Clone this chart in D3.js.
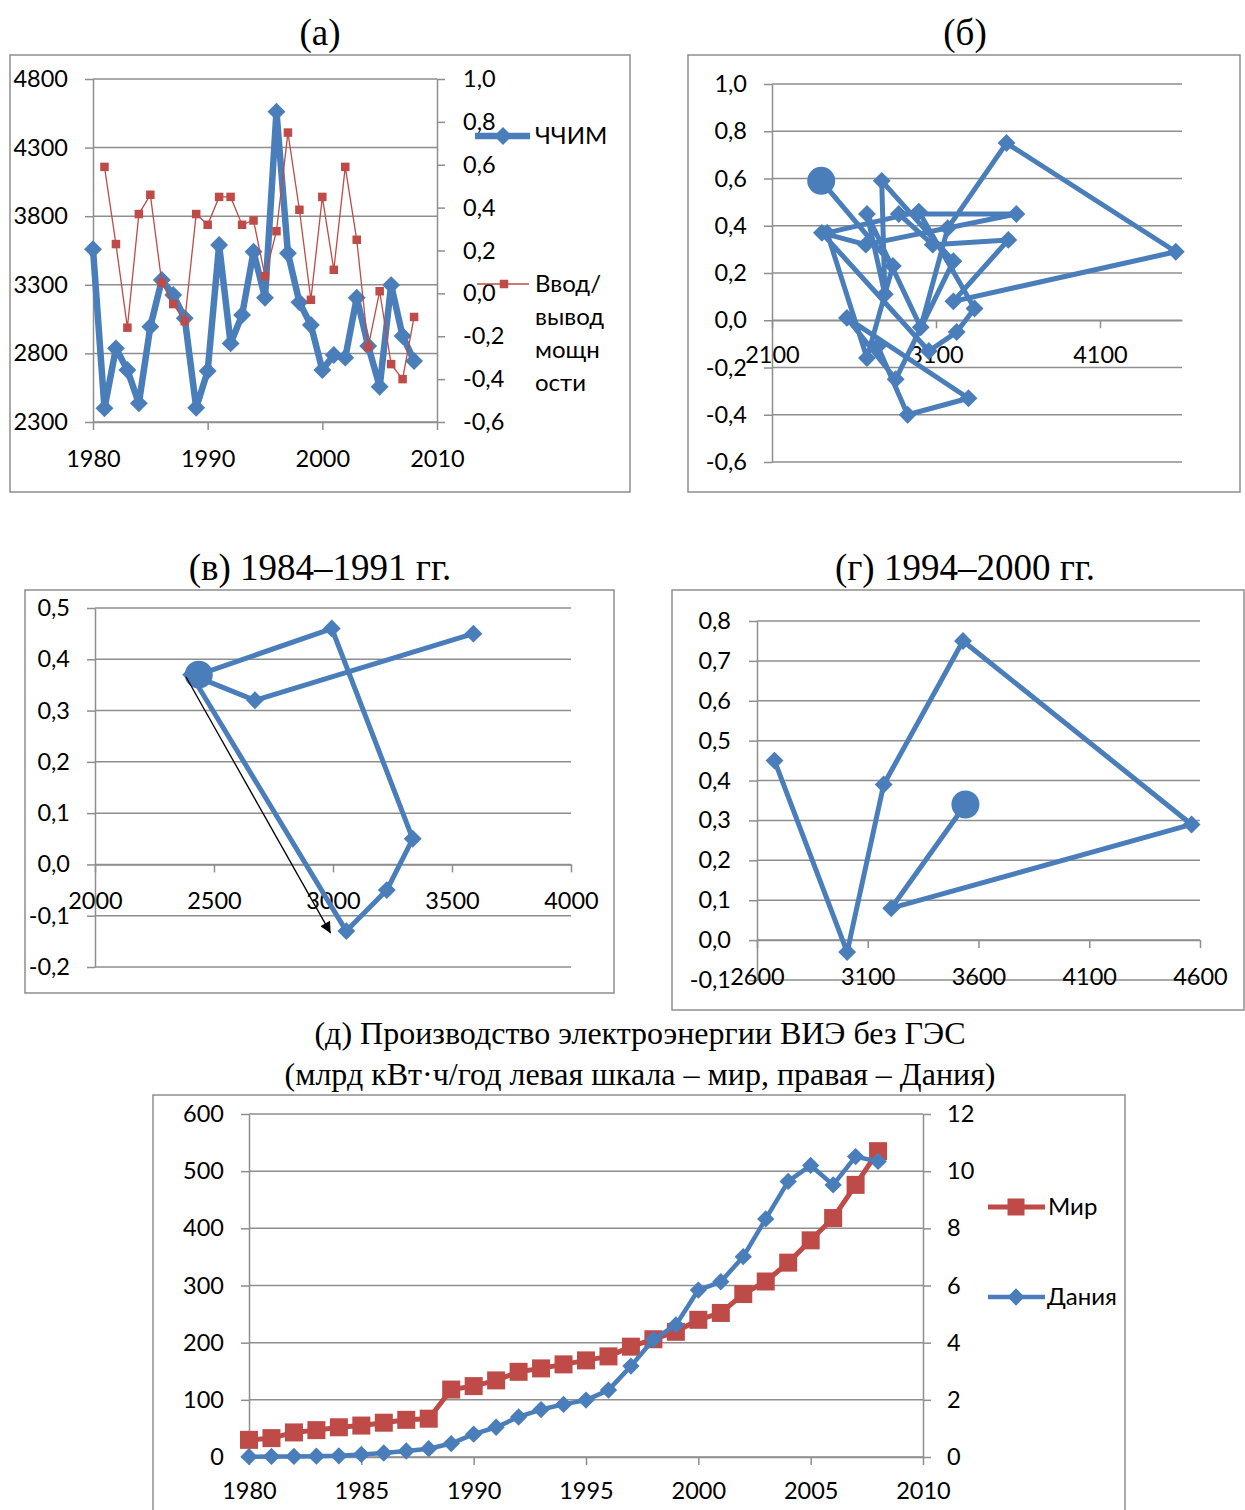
<!DOCTYPE html>
<html>
<head>
<meta charset="utf-8">
<script src="https://cdn.jsdelivr.net/npm/d3@7"></script>
<style>
body { margin: 0; background: #fff; }
svg text { font-family: Lato, "Open Sans", sans-serif; font-size: 23.5px; fill: #000; }
svg text.title { font-family: "Liberation Serif", "Times New Roman", serif; font-size: 37px; }
svg text.title.small { font-size: 32px; }
svg text.legend { font-size: 24px; }
</style>
</head>
<body>
<svg id="chart" width="1245" height="1510"></svg>
<script>
var svg = d3.select("#chart");
var blue = "#4a7ebb", red = "#be4b48", gridCol = "#8e8e8e";

// data
var years = [1980, 1981, 1982, 1983, 1984, 1985, 1986, 1987, 1988, 1989,
             1990, 1991, 1992, 1993, 1994, 1995, 1996, 1997, 1998, 1999,
             2000, 2001, 2002, 2003, 2004, 2005, 2006, 2007, 2008];
var chchim = [3560, 2400, 2837, 2679, 2436, 2995, 3335, 3226, 3056, 2404,
              2672, 3590, 2873, 3080, 3541, 3206, 4562, 3530, 3172, 3007,
              2679, 2788, 2769, 3206, 2854, 2557, 3298, 2927, 2745];
var vvod = [null, 0.59, 0.23, -0.16, 0.37, 0.46, 0.05, -0.05, -0.13, 0.37,
            0.32, 0.45, 0.45, 0.32, 0.34, 0.08, 0.29, 0.75, 0.39, -0.03,
            0.45, 0.11, 0.59, 0.25, -0.25, 0.01, -0.33, -0.40, -0.11];
var worldRE = [30, 33, 43, 47, 52, 55, 60, 65, 67, 118,
               124, 134, 149, 155, 162, 169, 176, 193, 206, 219,
               240, 252, 285, 307, 340, 379, 418, 476, 535];
var denmarkRE = [0.01, 0.02, 0.02, 0.03, 0.04, 0.09, 0.14, 0.21, 0.29, 0.47,
                 0.80, 1.04, 1.40, 1.66, 1.84, 1.99, 2.34, 3.18, 4.11, 4.62,
                 5.84, 6.13, 7.01, 8.33, 9.64, 10.2, 9.52, 10.51, 10.34];

var chchimTicks = [2300, 2800, 3300, 3800, 4300, 4800];
var vvodTicks = [-0.6, -0.4, -0.2, 0, 0.2, 0.4, 0.6, 0.8, 1.0];
var yearTicksA = [1980, 1990, 2000, 2010];
var phaseBX = [2100, 3100, 4100];
var phaseCX = [2000, 2500, 3000, 3500, 4000];
var phaseCY = [-0.2, -0.1, 0, 0.1, 0.2, 0.3, 0.4, 0.5];
var phaseDX = [2600, 3100, 3600, 4100, 4600];
var phaseDY = [-0.1, 0, 0.1, 0.2, 0.3, 0.4, 0.5, 0.6, 0.7, 0.8];
var worldTicks = [0, 100, 200, 300, 400, 500, 600];
var denmarkTicks = [0, 2, 4, 6, 8, 10, 12];
var yearTicksE = [1980, 1985, 1990, 1995, 2000, 2005, 2010];
var arrowC = [[2382, 0.366], [2990, -0.134]];

var loc = d3.formatLocale({decimal: ",", thousands: "", grouping: [3], currency: ["", ""], minus: "-"});
var f1 = loc.format(".1f");
var fInt = d3.format("d");

svg.append("defs").append("marker")
    .attr("id", "arr").attr("viewBox", "0 0 10 10")
    .attr("refX", 10).attr("refY", 5)
    .attr("markerWidth", 15).attr("markerHeight", 11)
    .attr("markerUnits", "userSpaceOnUse").attr("orient", "auto")
    .append("path").attr("d", "M0,0L10,5L0,10z").attr("fill", "#000");

function drawFrame(x0, y0, x1, y1) {
    svg.append("rect").attr("x", x0).attr("y", y0)
        .attr("width", x1 - x0).attr("height", y1 - y0)
        .attr("fill", "none").attr("stroke", gridCol).attr("stroke-width", 1.5);
}

function addTitle(text, cx, cy, cls) {
    svg.append("text").attr("class", cls || "title").attr("x", cx).attr("y", cy)
        .attr("dy", "0.35em").attr("text-anchor", "middle").text(text);
}

function addGrid(ys, ticks, x0, x1) {
    svg.append("g").selectAll("line").data(ticks).enter().append("line")
        .attr("x1", x0).attr("x2", x1)
        .attr("y1", function(d) {return ys(d)}).attr("y2", function(d) {return ys(d)})
        .attr("stroke", gridCol).attr("stroke-width", 1.5);
}

function addAxis(axis, tx, ty) {
    var g = svg.append("g").attr("transform", "translate(" + tx + "," + ty + ")").call(axis);
    g.attr("font-size", null).attr("font-family", null);
    g.select(".domain").attr("stroke", gridCol).attr("stroke-width", 1.5);
    g.selectAll(".tick line").attr("stroke", gridCol).attr("stroke-width", 1.5);
    return g;
}

function diamonds(pts, px, py, area, colour) {
    svg.append("g").selectAll("path").data(pts).enter().append("path")
        .attr("d", d3.symbol(d3.symbolSquare, area))
        .attr("transform", function(d) {return "translate(" + px(d) + "," + py(d) + ") rotate(45)"})
        .attr("fill", colour);
}

function squares(pts, px, py, side, colour) {
    svg.append("g").selectAll("rect").data(pts).enter().append("rect")
        .attr("x", function(d) {return px(d) - side / 2})
        .attr("y", function(d) {return py(d) - side / 2})
        .attr("width", side).attr("height", side)
        .attr("fill", colour);
}

// ---------- (а) ----------
var xA = d3.scaleLinear().domain([1980, 2010]).range([93, 437]);
var yA = d3.scaleLinear().domain([2300, 4800]).range([422, 79]);
var yA2 = d3.scaleLinear().domain([-0.6, 1.0]).range([422, 79]);

drawFrame(10, 55, 630, 492);
addTitle("(а)", 320, 32);
addGrid(yA, chchimTicks, 93, 437);
addAxis(d3.axisLeft(yA).tickValues(chchimTicks).tickSize(8).tickSizeOuter(0).tickPadding(17).tickFormat(fInt), 93, 0);
addAxis(d3.axisRight(yA2).tickValues(vvodTicks).tickSize(8).tickSizeOuter(0).tickPadding(18).tickFormat(f1), 437, 0);
addAxis(d3.axisBottom(xA).tickValues(yearTicksA).tickSize(8).tickSizeOuter(0).tickPadding(20).tickFormat(fInt), 0, 422);

var seriesA = years.map(function(y, i) {return {year: y, c: chchim[i], v: vvod[i]}});
svg.append("path").datum(seriesA)
    .attr("d", d3.line().x(function(d) {return xA(d.year)}).y(function(d) {return yA(d.c)}))
    .attr("fill", "none").attr("stroke", blue).attr("stroke-width", 6.5).attr("stroke-linejoin", "round");
diamonds(seriesA, function(d) {return xA(d.year)}, function(d) {return yA(d.c)}, 160, blue);

var seriesA2 = seriesA.filter(function(d) {return d.v !== null});
svg.append("path").datum(seriesA2)
    .attr("d", d3.line().x(function(d) {return xA(d.year)}).y(function(d) {return yA2(d.v)}))
    .attr("fill", "none").attr("stroke", red).attr("stroke-width", 1.3);
squares(seriesA2, function(d) {return xA(d.year)}, function(d) {return yA2(d.v)}, 8.5, red);

// legend (а)
svg.append("line").attr("x1", 475).attr("x2", 530).attr("y1", 136).attr("y2", 136)
    .attr("stroke", blue).attr("stroke-width", 6.5);
diamonds([0], function() {return 503}, function() {return 136}, 160, blue);
svg.append("text").attr("class", "legend").attr("x", 535).attr("y", 136).attr("dy", "0.35em").text("ЧЧИМ");
svg.append("line").attr("x1", 477).attr("x2", 529).attr("y1", 284).attr("y2", 284)
    .attr("stroke", red).attr("stroke-width", 1.3);
squares([0], function() {return 504}, function() {return 284}, 8.5, red);
["Ввод/", "вывод", "мощн", "ости"].forEach(function(t, i) {
    svg.append("text").attr("class", "legend").attr("x", 535).attr("y", 284 + i * 32.7)
        .attr("dy", "0.35em").text(t);
});

// ---------- phase plots ----------
function phasePoints(y0, y1) {
    var pts = [];
    years.forEach(function(y, i) {
        if (vvod[i] !== null && y >= y0 && y <= y1) pts.push([chchim[i], vvod[i]]);
    });
    return pts;
}

function drawPhase(xs, ys, xTicks, yTicks, pts, xPad, yPad) {
    var r = xs.range();
    addGrid(ys, yTicks, r[0], r[1]);
    addAxis(d3.axisLeft(ys).tickValues(yTicks).tickSize(8).tickSizeOuter(0).tickPadding(yPad).tickFormat(f1), r[0], 0);
    addAxis(d3.axisBottom(xs).tickValues(xTicks).tickSize(8).tickSizeOuter(0).tickPadding(xPad).tickFormat(fInt), 0, ys(0));
    svg.append("path").datum(pts)
        .attr("d", d3.line().x(function(d) {return xs(d[0])}).y(function(d) {return ys(d[1])}))
        .attr("fill", "none").attr("stroke", blue).attr("stroke-width", 5).attr("stroke-linejoin", "round");
    diamonds(pts.slice(1), function(d) {return xs(d[0])}, function(d) {return ys(d[1])}, 160, blue);
    svg.append("circle").attr("cx", xs(pts[0][0])).attr("cy", ys(pts[0][1])).attr("r", 14).attr("fill", blue);
}

// (б)
drawFrame(688, 55, 1240, 492);
addTitle("(б)", 965, 32);
var xB = d3.scaleLinear().domain([2100, 4600]).range([772, 1182]);
var yB = d3.scaleLinear().domain([-0.6, 1.0]).range([462, 84]);
drawPhase(xB, yB, phaseBX, vvodTicks, phasePoints(1981, 2008), 18, 17);

// (в)
drawFrame(25, 590, 614, 993);
addTitle("(в) 1984–1991 гг.", 320, 567);
var xC = d3.scaleLinear().domain([2000, 4000]).range([95, 571]);
var yC = d3.scaleLinear().domain([-0.2, 0.5]).range([967, 608]);
drawPhase(xC, yC, phaseCX, phaseCY, phasePoints(1984, 1991), 20, 17);
svg.append("line")
    .attr("x1", xC(arrowC[0][0])).attr("y1", yC(arrowC[0][1]))
    .attr("x2", xC(arrowC[1][0])).attr("y2", yC(arrowC[1][1]))
    .attr("stroke", "#000").attr("stroke-width", 1.3).attr("marker-end", "url(#arr)");

// (г)
drawFrame(672, 590, 1244, 1010);
addTitle("(г) 1994–2000 гг.", 965, 567);
var xD = d3.scaleLinear().domain([2600, 4600]).range([757, 1200]);
var yD = d3.scaleLinear().domain([-0.1, 0.8]).range([980, 621]);
drawPhase(xD, yD, phaseDX, phaseDY, phasePoints(1994, 2000), 20, 18);

// ---------- (д) ----------
addTitle("(д) Производство электроэнергии ВИЭ без ГЭС", 640, 1033, "title small");
addTitle("(млрд кВт·ч/год левая шкала – мир, правая – Дания)", 640, 1074, "title small");
drawFrame(153, 1095, 1125, 1530);
var xE = d3.scaleLinear().domain([1980, 2010]).range([249, 923]);
var yE = d3.scaleLinear().domain([0, 600]).range([1457, 1114]);
var yE2 = d3.scaleLinear().domain([0, 12]).range([1457, 1114]);
addGrid(yE, worldTicks, 249, 923);
addAxis(d3.axisLeft(yE).tickValues(worldTicks).tickSize(8).tickSizeOuter(0).tickPadding(17).tickFormat(fInt), 249, 0);
addAxis(d3.axisRight(yE2).tickValues(denmarkTicks).tickSize(8).tickSizeOuter(0).tickPadding(16).tickFormat(fInt), 923, 0);
addAxis(d3.axisBottom(xE).tickValues(yearTicksE).tickSize(8).tickSizeOuter(0).tickPadding(17).tickFormat(fInt), 0, 1457);

var seriesE = years.map(function(y, i) {return {year: y, w: worldRE[i], d: denmarkRE[i]}});
svg.append("path").datum(seriesE)
    .attr("d", d3.line().x(function(d) {return xE(d.year)}).y(function(d) {return yE(d.w)}))
    .attr("fill", "none").attr("stroke", red).attr("stroke-width", 5).attr("stroke-linejoin", "round");
squares(seriesE, function(d) {return xE(d.year)}, function(d) {return yE(d.w)}, 18, red);
svg.append("path").datum(seriesE)
    .attr("d", d3.line().x(function(d) {return xE(d.year)}).y(function(d) {return yE2(d.d)}))
    .attr("fill", "none").attr("stroke", blue).attr("stroke-width", 4.5).attr("stroke-linejoin", "round");
diamonds(seriesE, function(d) {return xE(d.year)}, function(d) {return yE2(d.d)}, 150, blue);

// legend (д)
svg.append("line").attr("x1", 988).attr("x2", 1045).attr("y1", 1207).attr("y2", 1207)
    .attr("stroke", red).attr("stroke-width", 5);
squares([0], function() {return 1016}, function() {return 1207}, 17, red);
svg.append("text").attr("class", "legend").attr("x", 1048).attr("y", 1207).attr("dy", "0.35em").text("Мир");
svg.append("line").attr("x1", 988).attr("x2", 1045).attr("y1", 1297).attr("y2", 1297)
    .attr("stroke", blue).attr("stroke-width", 4.5);
diamonds([0], function() {return 1016}, function() {return 1297}, 150, blue);
svg.append("text").attr("class", "legend").attr("x", 1047).attr("y", 1297).attr("dy", "0.35em").text("Дания");
</script>
</body>
</html>
